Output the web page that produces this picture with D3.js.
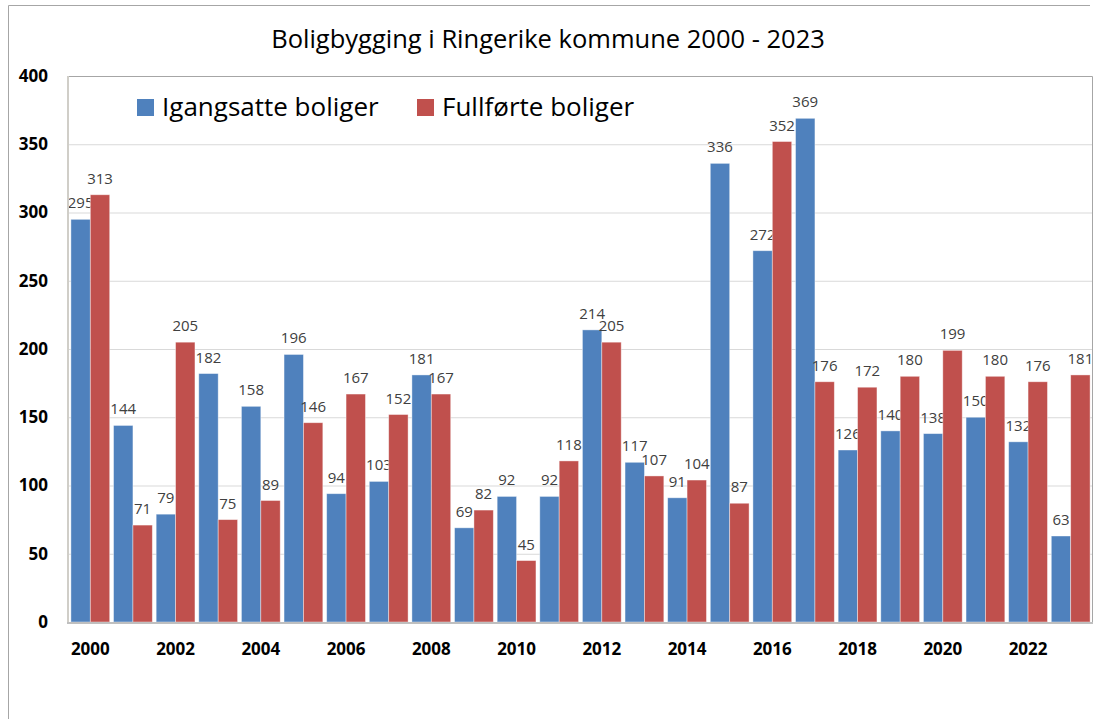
<!DOCTYPE html>
<head>
  <script src="https://d3js.org/d3.v7.min.js"></script>
  <style>
    body { margin: 0; background: #fff; }
    text { font-family: "Open Sans", sans-serif; }
  </style>
</head>
<body>
  <svg width="1096" height="719"></svg>
  <script>
    const years = d3.range(2000, 2024);
    const igangsatte = [295, 144, 79, 182, 158, 196, 94, 103, 181, 69, 92, 92, 214, 117, 91, 336, 272, 369, 126, 140, 138, 150, 132, 63];
    const fullforte = [313, 71, 205, 75, 89, 146, 167, 152, 167, 82, 45, 118, 205, 107, 104, 87, 352, 176, 172, 180, 199, 180, 176, 181];
    const seriesNames = ["Igangsatte boliger", "Fullførte boliger"];
    const colors = ["#4F81BD", "#C0504D"];
    const yTicks = [0, 50, 100, 150, 200, 250, 300, 350, 400];

    const svg = d3.select("svg");
    const plotL = 69, plotR = 1092, plotT = 76, plotB = 622;

    // outer frame
    svg.append("path")
      .attr("d", "M8.5,719 V5.5 H1090")
      .attr("fill", "none")
      .attr("stroke", "#a6a6a6");

    svg.append("text")
      .attr("x", 548).attr("y", 48)
      .attr("text-anchor", "middle")
      .attr("font-size", 25.5)
      .attr("fill", "#000")
      .text("Boligbygging i Ringerike kommune 2000 - 2023");

    const x = d3.scaleBand().domain(years).range([plotL, plotR]).paddingInner(0.09).paddingOuter(0.045);
    const xs = d3.scaleBand().domain([0, 1]).range([0, x.bandwidth()]);
    const y = d3.scaleLinear().domain([0, 400]).range([plotB, plotT]);

    // grid
    svg.append("g").selectAll("line").data(yTicks.slice(1, -1)).join("line")
      .attr("x1", plotL).attr("x2", plotR)
      .attr("y1", d => y(d) + 0.5).attr("y2", d => y(d) + 0.5)
      .attr("stroke", "#d9d9d9");

    // plot border (top, right)
    svg.append("path")
      .attr("d", `M${plotL},${plotT + 0.5} H${plotR + 0.5} V${plotB}`)
      .attr("fill", "none").attr("stroke", "#a6a6a6");

    const data = [igangsatte, fullforte];
    data.forEach((vals, s) => {
      const g = svg.append("g");
      g.selectAll("rect").data(vals).join("rect")
        .attr("x", (d, i) => x(years[i]) + xs(s))
        .attr("width", xs.bandwidth())
        .attr("y", d => y(d))
        .attr("height", d => y(0) - y(d))
        .attr("fill", colors[s])
        .attr("stroke", "#fff").attr("stroke-opacity", 0.5).attr("stroke-width", 0.8);
      g.selectAll("text").data(vals).join("text")
        .attr("x", (d, i) => x(years[i]) + xs(s) + xs.bandwidth() / 2)
        .attr("y", d => y(d) - 11)
        .attr("text-anchor", "middle")
        .attr("font-size", 15)
        .attr("fill", "#404040")
        .text(d => d);
    });

    // axes lines
    svg.append("line").attr("x1", plotL - 1).attr("x2", plotL - 1).attr("y1", plotT).attr("y2", plotB + 1)
      .attr("stroke", "#d0cec8").attr("stroke-width", 2);
    svg.append("line").attr("x1", plotL - 2).attr("x2", plotR + 1).attr("y1", plotB + 1).attr("y2", plotB + 1)
      .attr("stroke", "#bfbfbf").attr("stroke-width", 2);

    const yAxis = d3.axisLeft(y).tickValues(yTicks).tickSize(0).tickPadding(21);
    svg.append("g").attr("transform", `translate(${plotL},0)`).call(yAxis)
      .call(g => g.select(".domain").remove())
      .selectAll("text")
      .attr("font-size", 17).attr("font-weight", "bold").attr("fill", "#000")
      .attr("font-family", "Open Sans, sans-serif");

    const xAxis = d3.axisBottom(x).tickValues(years.filter(d => d % 2 === 0)).tickSize(0).tickPadding(21);
    svg.append("g").attr("transform", `translate(0,${plotB})`).call(xAxis)
      .call(g => g.select(".domain").remove())
      .selectAll("text")
      .attr("font-size", 17).attr("font-weight", "bold").attr("fill", "#000")
      .attr("font-family", "Open Sans, sans-serif");

    // legend
    const legX = [137, 417];
    seriesNames.forEach((name, s) => {
      svg.append("rect").attr("x", legX[s]).attr("y", 99).attr("width", 17).attr("height", 17).attr("fill", colors[s]);
      svg.append("text").attr("x", legX[s] + 25).attr("y", 116)
        .attr("font-size", 26).attr("fill", "#000").text(name);
    });
  </script>
</body>
